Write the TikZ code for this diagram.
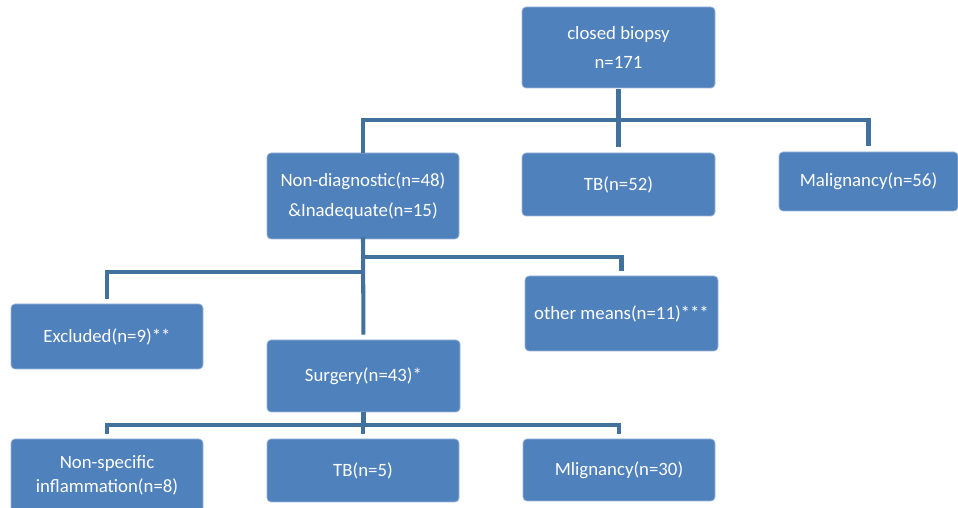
\documentclass[tikz,border=0pt]{standalone}
\usepackage{fontspec}
\setmainfont{Carlito}
\usepackage{tikz}
\usetikzlibrary{arrows.meta,positioning,calc}
\definecolor{boxfill}{HTML}{4F81BD}
\definecolor{boxline}{HTML}{9DB7D9}
\definecolor{link}{HTML}{41719C}

\begin{document}
\begin{tikzpicture}[x=1cm,y=1cm,
  box/.style={rounded corners=0.8mm,draw=boxline,fill=boxfill,line width=0.4pt,text=white,align=center,inner sep=0pt,font=\fontsize{10.7}{17}\selectfont},
  wire/.style={draw=link,line width=2.3pt,line cap=rect},
  gap/.style={shorten >=0.14cm}]
  \useasboundingbox (0,0) rectangle (19.16,10.16);
  % boxes
  \node[box,minimum width=3.86cm,minimum height=1.62cm] (biopsy) at (12.37,9.21) {closed biopsy\\n=171};
  \node[box,minimum width=3.84cm,minimum height=1.72cm] (nondiag) at (7.26,6.24) {Non-diagnostic(n=48)\\\&Inadequate(n=15)};
  \node[box,minimum width=3.86cm,minimum height=1.26cm] (tbA) at (12.37,6.47) {TB(n=52)};
  \node[box,minimum width=3.58cm,minimum height=1.18cm] (malig) at (17.37,6.53) {Malignancy(n=56)};
  \node[box,minimum width=3.84cm,minimum height=1.30cm] (excl) at (2.14,3.43) {Excluded(n=9)**};
  \node[box,minimum width=3.86cm,minimum height=1.50cm] (other) at (12.43,3.89) {other means(n=11)***};
  \node[box,minimum width=3.86cm,minimum height=1.44cm] (surg) at (7.27,2.64) {Surgery(n=43)*};
  \node[box,minimum width=3.84cm,minimum height=1.46cm,font=\fontsize{10.7}{14}\selectfont] (nonspec) at (2.14,0.65) {Non-specific\\inflammation(n=8)};
  \node[box,minimum width=3.84cm,minimum height=1.26cm] (tbB) at (7.26,0.75) {TB(n=5)};
  \node[box,minimum width=3.84cm,minimum height=1.24cm] (mlig) at (12.38,0.76) {Mlignancy(n=30)};
  % buses
  \coordinate (busA) at (0,7.76);
  \coordinate (busB) at (0,4.72);
  \coordinate (busC) at (0,5.02);
  \coordinate (busD) at (0,1.66);
  % connectors
  \draw[wire,shorten <=0.06cm] (biopsy.south) -- (biopsy.south |- busA);
  \draw[wire,shorten <=0.04cm] (nondiag.north) -- (nondiag.north |- busA) -- (malig.north |- busA);
  \draw[wire,shorten >=0.16cm] (tbA.north |- busA) -- (tbA.north);
  \draw[wire,shorten >=0.16cm] (malig.north |- busA) -- (malig.north);
  \draw[wire,gap] (nondiag.south) -- (surg.north);
  \draw[wire,gap] (nondiag.south |- busB) -- (excl.north |- busB) -- (excl.north);
  \draw[wire,gap] (nondiag.south |- busC) -- (other.north |- busC) -- (other.north);
  \draw[wire,shorten <=0.04cm] (surg.south) -- (surg.south |- busD);
  \draw[wire,gap] (nonspec.north |- busD) -- (nonspec.north);
  \draw[wire] (nonspec.north |- busD) -- (mlig.north |- busD);
  \draw[wire,gap] (tbB.north |- busD) -- (tbB.north);
  \draw[wire,gap] (mlig.north |- busD) -- (mlig.north);
\end{tikzpicture}
\end{document}
